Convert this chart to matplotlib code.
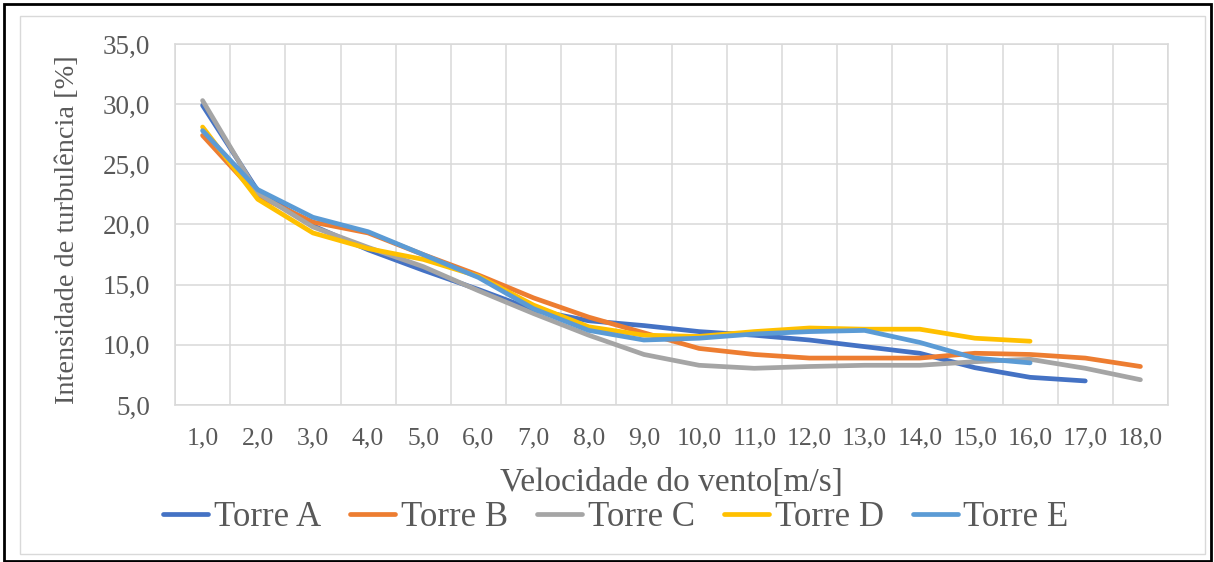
import matplotlib
matplotlib.use("Agg")
from matplotlib import pyplot as plt
from matplotlib.patches import Rectangle
import numpy as np

plt.rcParams['font.family'] = ['Liberation Serif', 'DejaVu Serif']

velocidades = ["1,0", "2,0", "3,0", "4,0", "5,0", "6,0", "7,0", "8,0", "9,0",
               "10,0", "11,0", "12,0", "13,0", "14,0", "15,0", "16,0", "17,0", "18,0"]
torre_a = [29.9, 22.8, 19.9, 17.9, 16.2, 14.6, 12.9, 12.0, 11.6, 11.1, 10.8, 10.4, 9.85, 9.3, 8.1, 7.3, 7.0]
torre_b = [27.4, 22.4, 20.2, 19.3, 17.5, 15.8, 13.9, 12.3, 11.0, 9.7, 9.2, 8.9, 8.9, 8.9, 9.3, 9.2, 8.9, 8.2]
torre_c = [30.3, 22.6, 19.8, 18.1, 16.5, 14.5, 12.6, 10.8, 9.2, 8.3, 8.05, 8.2, 8.3, 8.3, 8.6, 8.8, 8.05, 7.1]
torre_d = [28.1, 22.1, 19.3, 18.0, 17.1, 15.7, 13.3, 11.5, 10.8, 10.7, 11.1, 11.4, 11.3, 11.3, 10.55, 10.3]
torre_e = [27.8, 22.9, 20.6, 19.4, 17.5, 15.6, 13.0, 11.2, 10.4, 10.55, 10.9, 11.1, 11.2, 10.2, 8.9, 8.5]

series = [("Torre A", torre_a, "#4472C4"),
          ("Torre B", torre_b, "#ED7D31"),
          ("Torre C", torre_c, "#A5A5A5"),
          ("Torre D", torre_d, "#FFC000"),
          ("Torre E", torre_e, "#5B9BD5")]

W, H = 1214, 562
fig = plt.figure(figsize=(W / 100, H / 100), dpi=100)

# outer frames
fig.patches.append(Rectangle((4 / W, 1 / H), 1207 / W, 557 / H, transform=fig.transFigure,
                             fill=False, edgecolor="black", linewidth=2))
fig.patches.append(Rectangle((20 / W, 8 / H), 1185 / W, 538 / H, transform=fig.transFigure,
                             fill=False, edgecolor="#D9D9D9", linewidth=1))

ax = fig.add_axes([175 / W, (H - 405) / H, (1168 - 175) / W, (405 - 44) / H])

for nome, valores, cor in series:
    x = np.arange(len(valores)) + 0.5
    ax.plot(x, valores, color=cor, linewidth=3.4, label=nome,
            solid_joinstyle="round", solid_capstyle="round")

ax.set_xlim(0, len(velocidades))
ax.set_ylim(5, 35)
ax.set_yticks(np.arange(5, 36, 5))
ax.set_yticklabels([f"{v:.1f}".replace(".", ",") for v in np.arange(5, 36, 5)])
ax.set_xticks(np.arange(len(velocidades)) + 0.5)
ax.set_xticklabels(velocidades)
ax.set_xticks(np.arange(len(velocidades) + 1), minor=True)

ax.grid(False)
ax.grid(True, which="minor", axis="x", color="#D9D9D9", linewidth=1.1)
ax.grid(True, which="major", axis="y", color="#D9D9D9", linewidth=1.1)
ax.set_axisbelow(True)
for s in ax.spines.values():
    s.set_color("#D9D9D9")
    s.set_linewidth(1.1)

ax.tick_params(axis="both", which="both", length=0, colors="#595959", labelsize=18.5)
ax.tick_params(axis="y", pad=18, labelsize=19.5)
ax.tick_params(axis="x", pad=16)

ax.set_xlabel("Velocidade do vento[m/s]", fontsize=24, color="#595959", labelpad=13)
ax.set_ylabel("Intensidade de turbulência [%]", fontsize=20.4, color="#595959")
ax.yaxis.set_label_coords(-0.096, 0.485)

fig.legend(loc="center", bbox_to_anchor=(616 / W, (H - 518) / H), ncol=5, frameon=False,
           fontsize=25, handlelength=1.3, handletextpad=0.15, columnspacing=0.85,
           labelcolor="#595959")

fig.savefig("out.png", dpi=100)
